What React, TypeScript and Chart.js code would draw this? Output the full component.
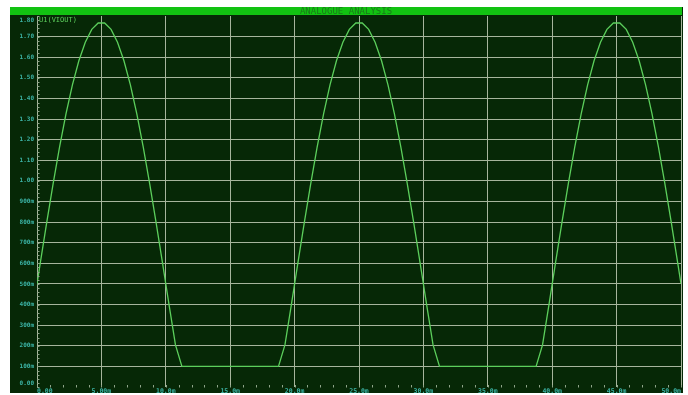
import React, { useEffect, useRef } from "react";
import { Chart, registerables } from "chart.js";

Chart.register(...registerables);

const TITLE = "ANALOGUE ANALYSIS";
const TRACE_LABEL = "U1(VIOUT)";

// time in ms
const TIME_MS = [
  0, 0.25, 0.75, 1.25, 1.75, 2.25, 2.75, 3.25, 3.75, 4.25, 4.75,
  5.25, 5.75, 6.25, 6.75, 7.25, 7.75, 8.25, 8.75, 9.25, 9.75,
  10.25, 10.75, 11.25, 11.75, 12.25, 12.75, 13.25, 13.75, 14.25, 14.75,
  15.25, 15.75, 16.25, 16.75, 17.25, 17.75, 18.25, 18.75, 19.25, 19.75,
  20.25, 20.75, 21.25, 21.75, 22.25, 22.75, 23.25, 23.75, 24.25, 24.75,
  25.25, 25.75, 26.25, 26.75, 27.25, 27.75, 28.25, 28.75, 29.25, 29.75,
  30.25, 30.75, 31.25, 31.75, 32.25, 32.75, 33.25, 33.75, 34.25, 34.75,
  35.25, 35.75, 36.25, 36.75, 37.25, 37.75, 38.25, 38.75, 39.25, 39.75,
  40.25, 40.75, 41.25, 41.75, 42.25, 42.75, 43.25, 43.75, 44.25, 44.75,
  45.25, 45.75, 46.25, 46.75, 47.25, 47.75, 48.25, 48.75, 49.25, 49.75,
  50,
];

// output voltage in V
const VOUT = [
  0.5, 0.6, 0.796, 0.986, 1.164, 1.325, 1.466, 1.583, 1.673, 1.735, 1.766,
  1.766, 1.735, 1.673, 1.583, 1.466, 1.325, 1.164, 0.986, 0.796, 0.6,
  0.4, 0.204, 0.1, 0.1, 0.1, 0.1, 0.1, 0.1, 0.1, 0.1,
  0.1, 0.1, 0.1, 0.1, 0.1, 0.1, 0.1, 0.1, 0.204, 0.4,
  0.6, 0.796, 0.986, 1.164, 1.325, 1.466, 1.583, 1.673, 1.735, 1.766,
  1.766, 1.735, 1.673, 1.583, 1.466, 1.325, 1.164, 0.986, 0.796, 0.6,
  0.4, 0.204, 0.1, 0.1, 0.1, 0.1, 0.1, 0.1, 0.1, 0.1,
  0.1, 0.1, 0.1, 0.1, 0.1, 0.1, 0.1, 0.1, 0.204, 0.4,
  0.6, 0.796, 0.986, 1.164, 1.325, 1.466, 1.583, 1.673, 1.735, 1.766,
  1.766, 1.735, 1.673, 1.583, 1.466, 1.325, 1.164, 0.986, 0.796, 0.6,
  0.5,
];

const X_TICK_LABELS = [
  "0.00", "5.00m", "10.0m", "15.0m", "20.0m", "25.0m",
  "30.0m", "35.0m", "40.0m", "45.0m", "50.0m",
];

const Y_TICK_LABELS = [
  "0.00", "100m", "200m", "300m", "400m", "500m", "600m", "700m", "800m", "900m",
  "1.00", "1.10", "1.20", "1.30", "1.40", "1.50", "1.60", "1.70", "1.80",
];

const PANEL = "#062806";
const HEADER = "#12c212";
const HEADER_TEXT = "#1a7a1a";
const GRID = "#a6b59c";
const LABEL = "#3cb4a6";
const TRACE = "#5ccf5c";
const MINOR = "#8fa58a";

const scopePlugin = {
  id: "scope",
  beforeDraw(chart: any) {
    const ctx = chart.ctx;
    ctx.save();
    ctx.fillStyle = "#ffffff";
    ctx.fillRect(0, 0, chart.width, chart.height);
    ctx.fillStyle = PANEL;
    ctx.fillRect(10, 7, 673, 386);
    ctx.fillStyle = HEADER;
    ctx.fillRect(10, 7, 672, 8);
    ctx.fillStyle = HEADER_TEXT;
    ctx.font = "9px 'DejaVu Sans Mono'";
    ctx.textAlign = "center";
    ctx.textBaseline = "middle";
    ctx.fillText(TITLE, 346, 11.5);
    ctx.restore();
  },
  afterDraw(chart: any) {
    const ctx = chart.ctx;
    const area = chart.chartArea;
    const xs = chart.scales.x;
    const ys = chart.scales.y;
    ctx.save();
    // minor ticks
    ctx.strokeStyle = MINOR;
    ctx.lineWidth = 1;
    ctx.beginPath();
    for (let i = 0; i <= 50; i++) {
      const px = Math.round(xs.getPixelForValue(i)) + 0.5;
      ctx.moveTo(px, area.bottom - 2);
      ctx.lineTo(px, area.bottom + 0.5);
    }
    for (let i = 0; i <= 90; i++) {
      const py = Math.round(ys.getPixelForValue(i * 0.02)) + 0.5;
      ctx.moveTo(area.left, py);
      ctx.lineTo(area.left + 2.5, py);
    }
    ctx.stroke();
    // y labels
    ctx.fillStyle = LABEL;
    ctx.font = "bold 6px 'DejaVu Sans Mono'";
    ctx.textAlign = "right";
    ctx.textBaseline = "middle";
    ys.ticks.forEach((t: any) => {
      let py = ys.getPixelForValue(t.value);
      py = Math.min(Math.max(py, area.top + 4), area.bottom - 4);
      ctx.fillText(String(t.label), area.left - 3, py);
    });
    // trace label
    ctx.fillStyle = TRACE;
    ctx.font = "7px 'DejaVu Sans Mono'";
    ctx.textAlign = "left";
    ctx.fillText(chart.data.datasets[0].label, area.left + 2, area.top + 4);
    ctx.restore();
  },
};

export default function App() {
  const canvasRef = useRef<HTMLCanvasElement | null>(null);

  useEffect(() => {
    document.body.style.margin = "0";
    const canvas = canvasRef.current;
    if (!canvas) return;
    const chart = new Chart(canvas, {
      type: "line",
      data: {
        datasets: [
          {
            label: TRACE_LABEL,
            data: TIME_MS.map((t, i) => ({ x: t, y: VOUT[i] })),
            borderColor: TRACE,
            borderWidth: 1.3,
            pointRadius: 0,
            tension: 0,
            fill: false,
          },
        ],
      },
      options: {
        responsive: false,
        animation: false,
        events: [],
        layout: { padding: { left: 10, right: 7, top: 16, bottom: 0 } },
        plugins: {
          legend: { display: false },
          title: { display: false },
          tooltip: { enabled: false },
        },
        scales: {
          x: {
            type: "linear",
            min: 0,
            max: 50,
            afterFit: (s: any) => {
              s.height = 8;
            },
            border: { display: false },
            grid: { color: GRID, lineWidth: 1, drawTicks: false },
            ticks: {
              stepSize: 5,
              autoSkip: false,
              maxRotation: 0,
              align: "inner",
              padding: 0,
              color: LABEL,
              font: { family: "'DejaVu Sans Mono'", size: 6.5, weight: "bold" },
              callback: (_v: any, i: number) => X_TICK_LABELS[i],
            },
          },
          y: {
            type: "linear",
            min: 0,
            max: 1.8,
            afterFit: (s: any) => {
              s.width = 27;
            },
            border: { display: false },
            grid: {
              color: (c: any) =>
                c.tick && (c.tick.value <= 0.001 || c.tick.value >= 1.799) ? "rgba(0,0,0,0)" : GRID,
              lineWidth: 1,
              drawTicks: false,
            },
            ticks: {
              display: false,
              stepSize: 0.1,
              callback: (_v: any, i: number) => Y_TICK_LABELS[i],
            },
          },
        },
      },
      plugins: [scopePlugin],
    } as any);
    return () => chart.destroy();
  }, []);

  return (
    <div style={{ position: "relative", width: 688, height: 395 }}>
      <canvas ref={canvasRef} width={688} height={395} style={{ display: "block" }} />
    </div>
  );
}
